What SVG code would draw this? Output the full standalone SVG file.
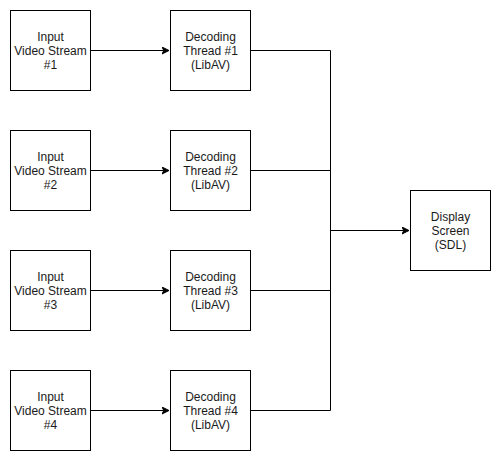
<svg xmlns="http://www.w3.org/2000/svg" width="501" height="461" viewBox="0 0 501 461">
<defs>
<marker id="arr" markerWidth="8" markerHeight="8" refX="7" refY="4" orient="auto" markerUnits="userSpaceOnUse">
<path d="M0,0.5 L7,4 L0,7.5 L1.75,4 Z" fill="#000" stroke="#000" stroke-width="1"/>
</marker>
</defs>
<style>
.n{fill:#fff;stroke:#000;stroke-width:1}
text{font-family:"Liberation Sans",Arial,sans-serif;font-size:12px;fill:#1a1a1a;text-anchor:middle}
.c{fill:none;stroke:#000;stroke-width:1}
</style>
<rect width="501" height="461" fill="#fff"/>
<g id="connectors">
<path class="c" d="M90.5,50.5 H169" marker-end="url(#arr)"/>
<path class="c" d="M90.5,170.5 H169" marker-end="url(#arr)"/>
<path class="c" d="M90.5,290.5 H169" marker-end="url(#arr)"/>
<path class="c" d="M90.5,410.5 H169" marker-end="url(#arr)"/>
<path class="c" d="M250.5,50.5 H330.5 V410.5 H250.5"/>
<path class="c" d="M250.5,170.5 H330.5"/>
<path class="c" d="M250.5,290.5 H330.5"/>
<path class="c" d="M330.5,230.5 H409" marker-end="url(#arr)"/>
</g>
<g id="in1"><rect class="n" x="10.5" y="10.5" width="80" height="80"/><text x="50.5" y="41">Input</text><text x="50.5" y="55">Video Stream</text><text x="50.5" y="69">#1</text></g>
<g id="in2"><rect class="n" x="10.5" y="130.5" width="80" height="80"/><text x="50.5" y="161">Input</text><text x="50.5" y="175">Video Stream</text><text x="50.5" y="189">#2</text></g>
<g id="in3"><rect class="n" x="10.5" y="250.5" width="80" height="80"/><text x="50.5" y="281">Input</text><text x="50.5" y="295">Video Stream</text><text x="50.5" y="309">#3</text></g>
<g id="in4"><rect class="n" x="10.5" y="370.5" width="80" height="80"/><text x="50.5" y="401">Input</text><text x="50.5" y="415">Video Stream</text><text x="50.5" y="429">#4</text></g>
<g id="dec1"><rect class="n" x="170.5" y="10.5" width="80" height="80"/><text x="210.5" y="41">Decoding</text><text x="210.5" y="55">Thread #1</text><text x="210.5" y="69">(LibAV)</text></g>
<g id="dec2"><rect class="n" x="170.5" y="130.5" width="80" height="80"/><text x="210.5" y="161">Decoding</text><text x="210.5" y="175">Thread #2</text><text x="210.5" y="189">(LibAV)</text></g>
<g id="dec3"><rect class="n" x="170.5" y="250.5" width="80" height="80"/><text x="210.5" y="281">Decoding</text><text x="210.5" y="295">Thread #3</text><text x="210.5" y="309">(LibAV)</text></g>
<g id="dec4"><rect class="n" x="170.5" y="370.5" width="80" height="80"/><text x="210.5" y="401">Decoding</text><text x="210.5" y="415">Thread #4</text><text x="210.5" y="429">(LibAV)</text></g>
<g id="display"><rect class="n" x="410.5" y="190.5" width="80" height="80"/><text x="450.5" y="221">Display</text><text x="450.5" y="235">Screen</text><text x="450.5" y="249">(SDL)</text></g>
</svg>
